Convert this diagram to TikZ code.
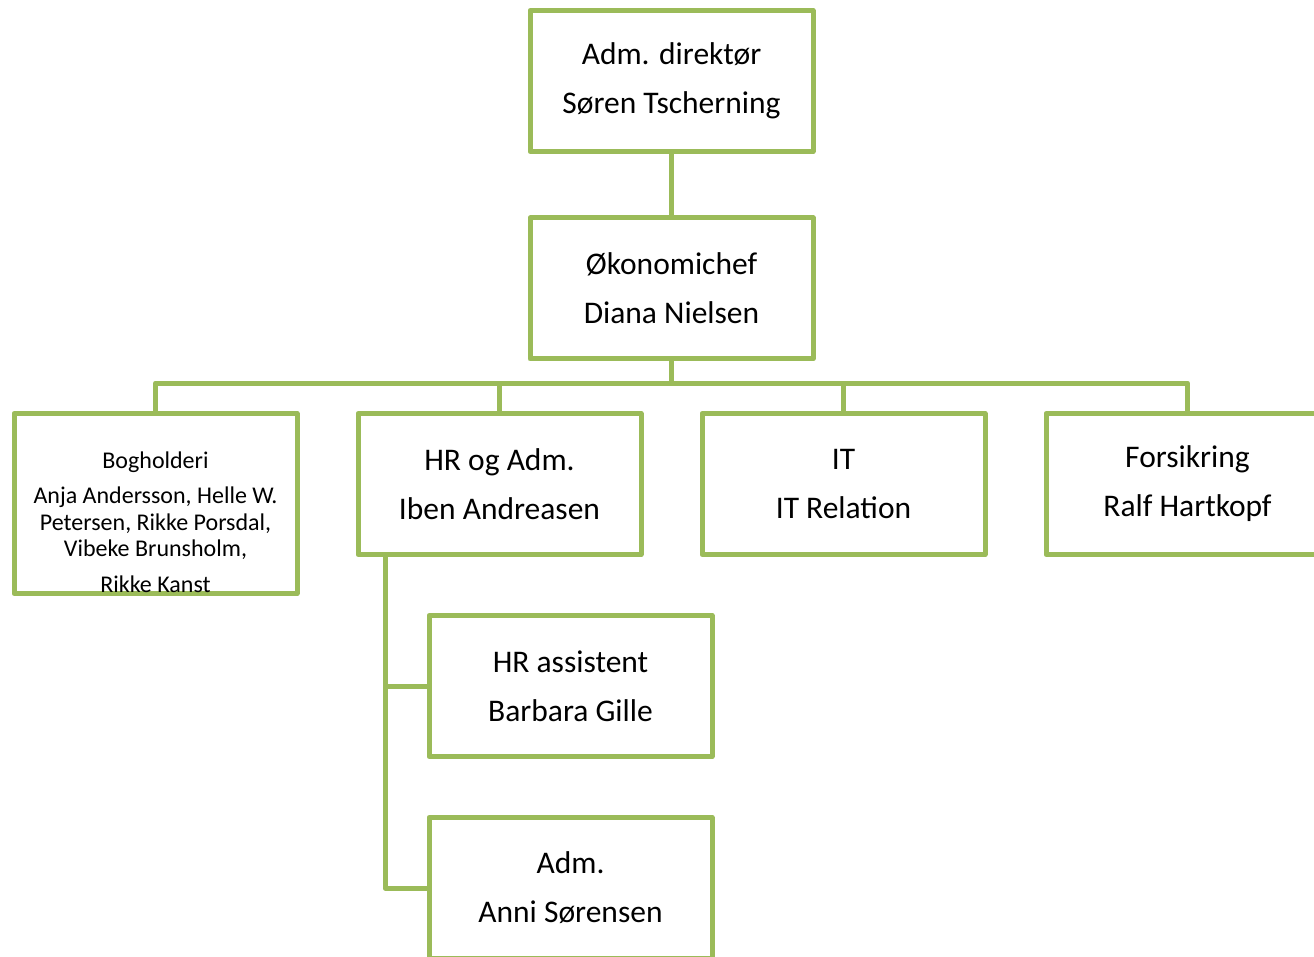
\documentclass[tikz,border=0pt]{standalone}
\usepackage{fontspec}
\setmainfont{Carlito}
\definecolor{boxgreen}{HTML}{9BBB59}
\tikzset{
  orgbox/.style={draw=boxgreen,line width=5pt,line join=round,minimum width=283pt,minimum height=141pt,inner sep=0pt,align=center,font=\fontsize{31.5}{49}\selectfont},
  orgline/.style={draw=boxgreen,line width=5pt,line join=round},
  smalltext/.style={align=center,inner sep=0pt,font=\fontsize{24}{26.5}\selectfont}
}
\begin{document}
\begin{tikzpicture}[x=1pt,y=-1pt]
\useasboundingbox (0,0) rectangle (1314,957);
\clip (0,0) rectangle (1314,957);

\node[orgbox] (dir) at (671.5,81) {Adm. direktør\\Søren Tscherning};
\node[orgbox] (oko) at (671.5,288.5) {Økonomichef\\Diana Nielsen};

\node[orgbox,minimum height=180pt] (bog) at (155.5,503.5) {};
\node[smalltext] (bogtext) at (155.5,522) {Bogholderi\\[9pt]Anja Andersson, Helle W.\\Petersen, Rikke Porsdal,\\Vibeke Brunsholm,\\[9pt]Rikke Kanst};
\node[orgbox] (hr) at (499.5,484) {HR og Adm.\\Iben Andreasen};
\node[orgbox] (it) at (843.5,484) {IT\\IT Relation};
\node[orgbox] (fors) at (1187.5,484) {Forsikring\\Ralf Hartkopf};

\node[orgbox] (hrass) at (570.5,686) {HR assistent\\Barbara Gille};
\node[orgbox] (adm) at (570.5,888) {Adm.\\Anni Sørensen};

%---------------------------------------------------------------------------------------------------
\coordinate (bar) at (671.5,383);
\coordinate (hrleft) at (385,555);

\draw[orgline] (dir) -- (oko);
\draw[orgline] (oko) -- (bar);
\draw[orgline] (bog.north) |- (bar) (hr.north) |- (bar);
\draw[orgline] (it.north) |- (bar) (fors.north) |- (bar);
\draw[orgline] (hrleft) |- (hrass.west) (hrleft) |- (adm.west);
\end{tikzpicture}
\end{document}
